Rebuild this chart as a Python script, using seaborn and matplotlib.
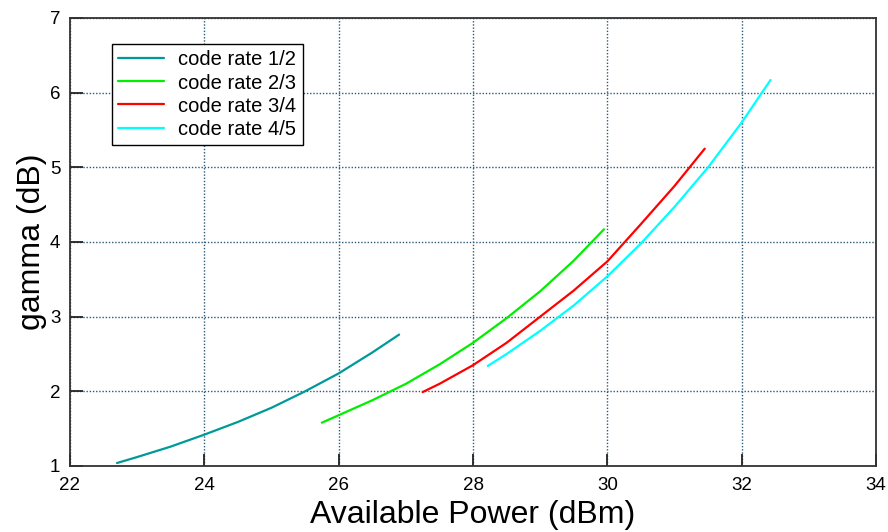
import matplotlib
matplotlib.use("Agg")
import matplotlib.pyplot as plt
import seaborn as sns
import pandas as pd

# ---- data ----
x_r12 = [22.7, 23.0, 23.5, 24.0, 24.5, 25.0, 25.5, 26.0, 26.5, 26.9]
y_r12 = [1.04, 1.12, 1.26, 1.42, 1.59, 1.78, 2.00, 2.24, 2.52, 2.76]

x_r23 = [25.75, 26.0, 26.5, 27.0, 27.5, 28.0, 28.5, 29.0, 29.5, 29.95]
y_r23 = [1.58, 1.68, 1.88, 2.10, 2.36, 2.65, 2.98, 3.34, 3.75, 4.17]

x_r34 = [27.25, 27.5, 28.0, 28.5, 29.0, 29.5, 30.0, 30.5, 31.0, 31.45]
y_r34 = [1.99, 2.10, 2.35, 2.65, 3.00, 3.35, 3.74, 4.24, 4.75, 5.25]

x_r45 = [28.22, 28.5, 29.0, 29.5, 30.0, 30.5, 31.0, 31.5, 32.0, 32.43]
y_r45 = [2.34, 2.50, 2.81, 3.15, 3.54, 3.98, 4.47, 5.00, 5.60, 6.17]

labels = ["code rate 1/2", "code rate 2/3", "code rate 3/4", "code rate 4/5"]
colors = ["#009999", "#00ee00", "#ff0000", "#00ffff"]

x_ticks = [22, 24, 26, 28, 30, 32, 34]
y_ticks = [1, 2, 3, 4, 5, 6, 7]

frames = []
for lab, xs, ys in zip(labels, [x_r12, x_r23, x_r34, x_r45], [y_r12, y_r23, y_r34, y_r45]):
    frames.append(pd.DataFrame({"x": xs, "y": ys, "series": lab}))
df = pd.concat(frames, ignore_index=True)

sns.set_style("white")
plt.rcParams["font.family"] = ["Liberation Sans", "DejaVu Sans"]
plt.rcParams["text.color"] = "black"
plt.rcParams["axes.labelcolor"] = "black"

fig = plt.figure(figsize=(8.88, 5.32), dpi=100)
ax = fig.add_axes([70/888, 1-466/532, 806/888, 448/532])

sns.lineplot(data=df, x="x", y="y", hue="series", hue_order=labels,
             palette=colors, sort=False, estimator=None, linewidth=1.6, ax=ax)

ax.set_xlim(22, 34)
ax.set_ylim(1, 7)
ax.set_xticks(x_ticks)
ax.set_yticks(y_ticks)
ax.tick_params(axis="both", which="major", bottom=True, left=True, top=False, right=False,
               direction="in", length=9, width=1.3, labelsize=13.5,
               color="#222222", labelcolor="black", pad=7)
ax.tick_params(axis="x", pad=8)
ax.grid(True, linestyle=(0, (1, 1.3)), color="#2a5a7a", linewidth=1.0)
for s in ax.spines.values():
    s.set_color("#333333")
    s.set_linewidth(1.3)
    s.set_visible(True)

ax.set_xlabel("Available Power (dBm)", fontsize=23, labelpad=4)
ax.set_ylabel("gamma (dB)", fontsize=23, labelpad=0)
ax.yaxis.set_label_coords(-23/806, 0.5)

leg = ax.legend(loc="upper left", bbox_to_anchor=(0.052, 0.941), borderaxespad=0,
                fontsize=14.5, frameon=True, fancybox=False, edgecolor="black",
                framealpha=1, handlelength=2.3, labelspacing=0.2,
                borderpad=0.3, handletextpad=0.7)
leg.get_frame().set_linewidth(1.0)

fig.savefig("out.png", dpi=100)
